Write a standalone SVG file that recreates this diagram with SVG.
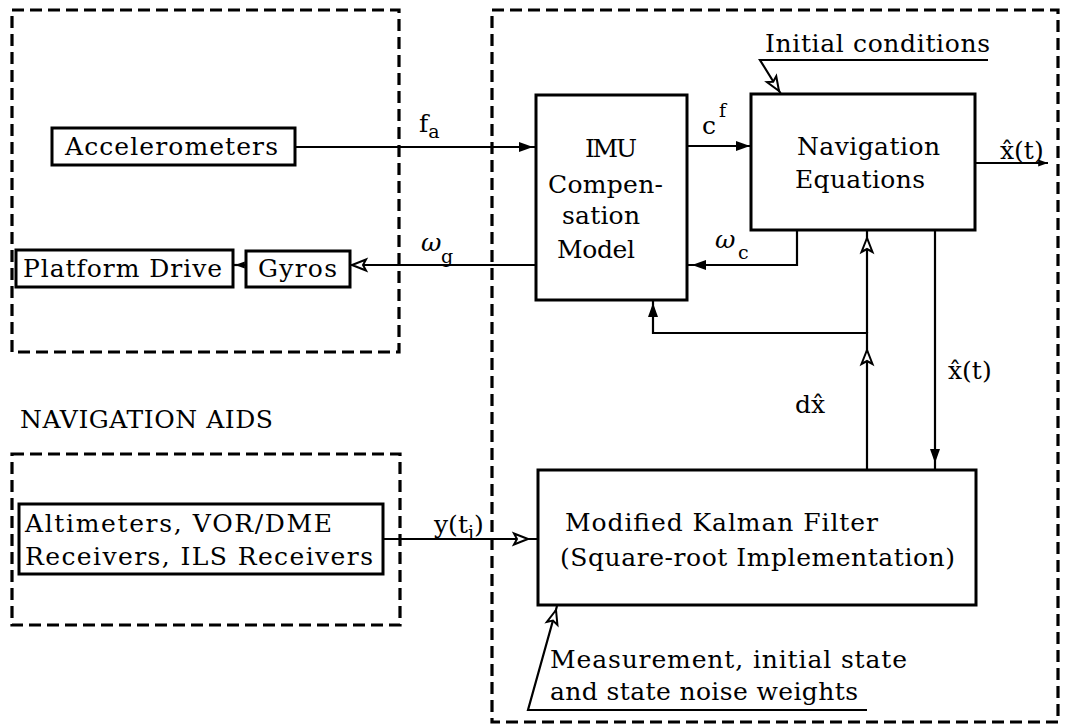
<svg xmlns="http://www.w3.org/2000/svg" xmlns:xlink="http://www.w3.org/1999/xlink" width="1066" height="728" viewBox="0 0 1066 728">
<style>
  .t { font-family: "DejaVu Serif", "Liberation Serif", serif; font-size: 25px; fill: #000; }
  .m { font-family: "DejaVu Serif", "Liberation Serif", serif; font-size: 25px; fill: #000; }
  .s { font-family: "DejaVu Serif", "Liberation Serif", serif; font-size: 19px; fill: #000; }
  .box { fill: #fff; stroke: #000; stroke-width: 3; }
  .dash { fill: none; stroke: #000; stroke-width: 3.2; stroke-dasharray: 12 6; }
  .ln { fill: none; stroke: #000; stroke-width: 2.2; }
</style>
<defs>
  <path id="af" d="M0,0 L-14,-5 L-14,5 Z" fill="#000"/>
  <path id="ao" d="M0,0 L-14,-5.5 L-11,0 L-14,5.5 Z" fill="#fff" stroke="#000" stroke-width="2"/>
</defs>
<rect width="1066" height="728" fill="#fff"/>

<g id="imu-platform">
  <rect class="dash" x="12" y="10" width="387" height="342"/>
</g>
<g id="computer">
  <rect class="dash" x="492" y="10" width="566" height="712"/>
</g>
<g id="nav-aids-group">
  <rect class="dash" x="12" y="454" width="388" height="171"/>
  <text class="t" x="20" y="428" textLength="253" lengthAdjust="spacing">NAVIGATION AIDS</text>
</g>

<g id="connectors">
  <line class="ln" x1="295" y1="147" x2="536" y2="147"/>
  <line class="ln" x1="687" y1="146" x2="751" y2="146"/>
  <polyline class="ln" points="797,230 797,265 687,265"/>
  <line class="ln" x1="536" y1="265" x2="350" y2="265"/>
  <line class="ln" x1="246" y1="265" x2="233" y2="265"/>
  <polyline class="ln" points="867,470 867,333 653,333 653,300"/>
  <line class="ln" x1="867" y1="333" x2="867" y2="230"/>
  <line class="ln" x1="935" y1="230" x2="935" y2="470"/>
  <line class="ln" x1="975" y1="163" x2="1048" y2="163"/>
  <line class="ln" x1="383" y1="539" x2="538" y2="539"/>
  <polyline class="ln" points="988,60 760,60 781,94"/>
  <polyline class="ln" points="867,710 528,710 557,606"/>
  <use xlink:href="#af" transform="translate(533,147)"/>
  <use xlink:href="#af" transform="translate(750,146)"/>
  <use xlink:href="#af" transform="translate(692,265) rotate(180)"/>
  <use xlink:href="#ao" transform="translate(352,265) rotate(180)"/>
  <use xlink:href="#af" transform="translate(235,265) rotate(180) scale(0.7)"/>
  <use xlink:href="#af" transform="translate(653,303) rotate(-90)"/>
  <use xlink:href="#ao" transform="translate(867,350) rotate(-90)"/>
  <use xlink:href="#ao" transform="translate(867,238) rotate(-90)"/>
  <use xlink:href="#af" transform="translate(935,463) rotate(90)"/>
  <use xlink:href="#af" transform="translate(1048,163) scale(0.7)"/>
  <use xlink:href="#ao" transform="translate(528,539)"/>
  <use xlink:href="#ao" transform="translate(779,91) rotate(58)"/>
  <use xlink:href="#ao" transform="translate(556,610) rotate(-74)"/>
</g>

<g id="accelerometers">
  <rect class="box" x="52" y="128" width="243" height="37"/>
  <text class="t" x="65" y="155" textLength="213" lengthAdjust="spacing">Accelerometers</text>
</g>
<g id="platform-drive">
  <rect class="box" x="16" y="250" width="217" height="37"/>
  <text class="t" x="23" y="277" textLength="199" lengthAdjust="spacing">Platform Drive</text>
</g>
<g id="gyros">
  <rect class="box" x="246" y="251" width="104" height="36"/>
  <text class="t" x="258" y="277" textLength="79" lengthAdjust="spacing">Gyros</text>
</g>
<g id="imu-comp">
  <rect class="box" x="536" y="95" width="151" height="205"/>
  <text class="t" x="585" y="157" textLength="52" lengthAdjust="spacing">IMU</text>
  <text class="t" x="548" y="193" textLength="115" lengthAdjust="spacing">Compen-</text>
  <text class="t" x="562" y="224" textLength="78" lengthAdjust="spacing">sation</text>
  <text class="t" x="557" y="258" textLength="78" lengthAdjust="spacing">Model</text>
</g>
<g id="nav-eq">
  <rect class="box" x="751" y="94" width="224" height="136"/>
  <text class="t" x="797" y="155" textLength="143" lengthAdjust="spacing">Navigation</text>
  <text class="t" x="795" y="188" textLength="130" lengthAdjust="spacing">Equations</text>
</g>
<g id="kalman">
  <rect class="box" x="538" y="470" width="438" height="135"/>
  <text class="t" x="565" y="531" textLength="313" lengthAdjust="spacing">Modified Kalman Filter</text>
  <text class="t" x="560" y="566" textLength="395" lengthAdjust="spacing">(Square-root Implementation)</text>
</g>
<g id="nav-aids">
  <rect class="box" x="19" y="504" width="364" height="70"/>
  <text class="t" x="25" y="532" textLength="307" lengthAdjust="spacing">Altimeters, VOR/DME</text>
  <text class="t" x="25" y="565" textLength="348" lengthAdjust="spacing">Receivers, ILS Receivers</text>
</g>

<g id="labels">
  <text class="t" x="765" y="52" textLength="225" lengthAdjust="spacing">Initial conditions</text>
  <text class="t" x="550" y="668" textLength="357" lengthAdjust="spacing">Measurement, initial state</text>
  <text class="t" x="550" y="700" textLength="308" lengthAdjust="spacing">and state noise weights</text>
  <text class="m" x="419" y="132">f<tspan class="s" dy="6">a</tspan></text>
  <text class="m" x="702" y="134">c<tspan class="s" dx="3" dy="-17">f</tspan></text>
  <text class="m" x="715" y="248" font-style="italic">ω</text>
  <text class="s" x="738" y="259">c</text>
  <text class="m" x="421" y="251" font-style="italic">ω</text>
  <text class="s" x="441" y="263">g</text>
  <text class="m" x="1000" y="159">x̂(t)</text>
  <text class="m" x="948" y="379">x̂(t)</text>
  <text class="m" x="795" y="413">dx̂</text>
  <text class="m" x="434" y="533">y(t<tspan class="s" dy="6">i</tspan><tspan dy="-6">)</tspan></text>
</g>
</svg>
